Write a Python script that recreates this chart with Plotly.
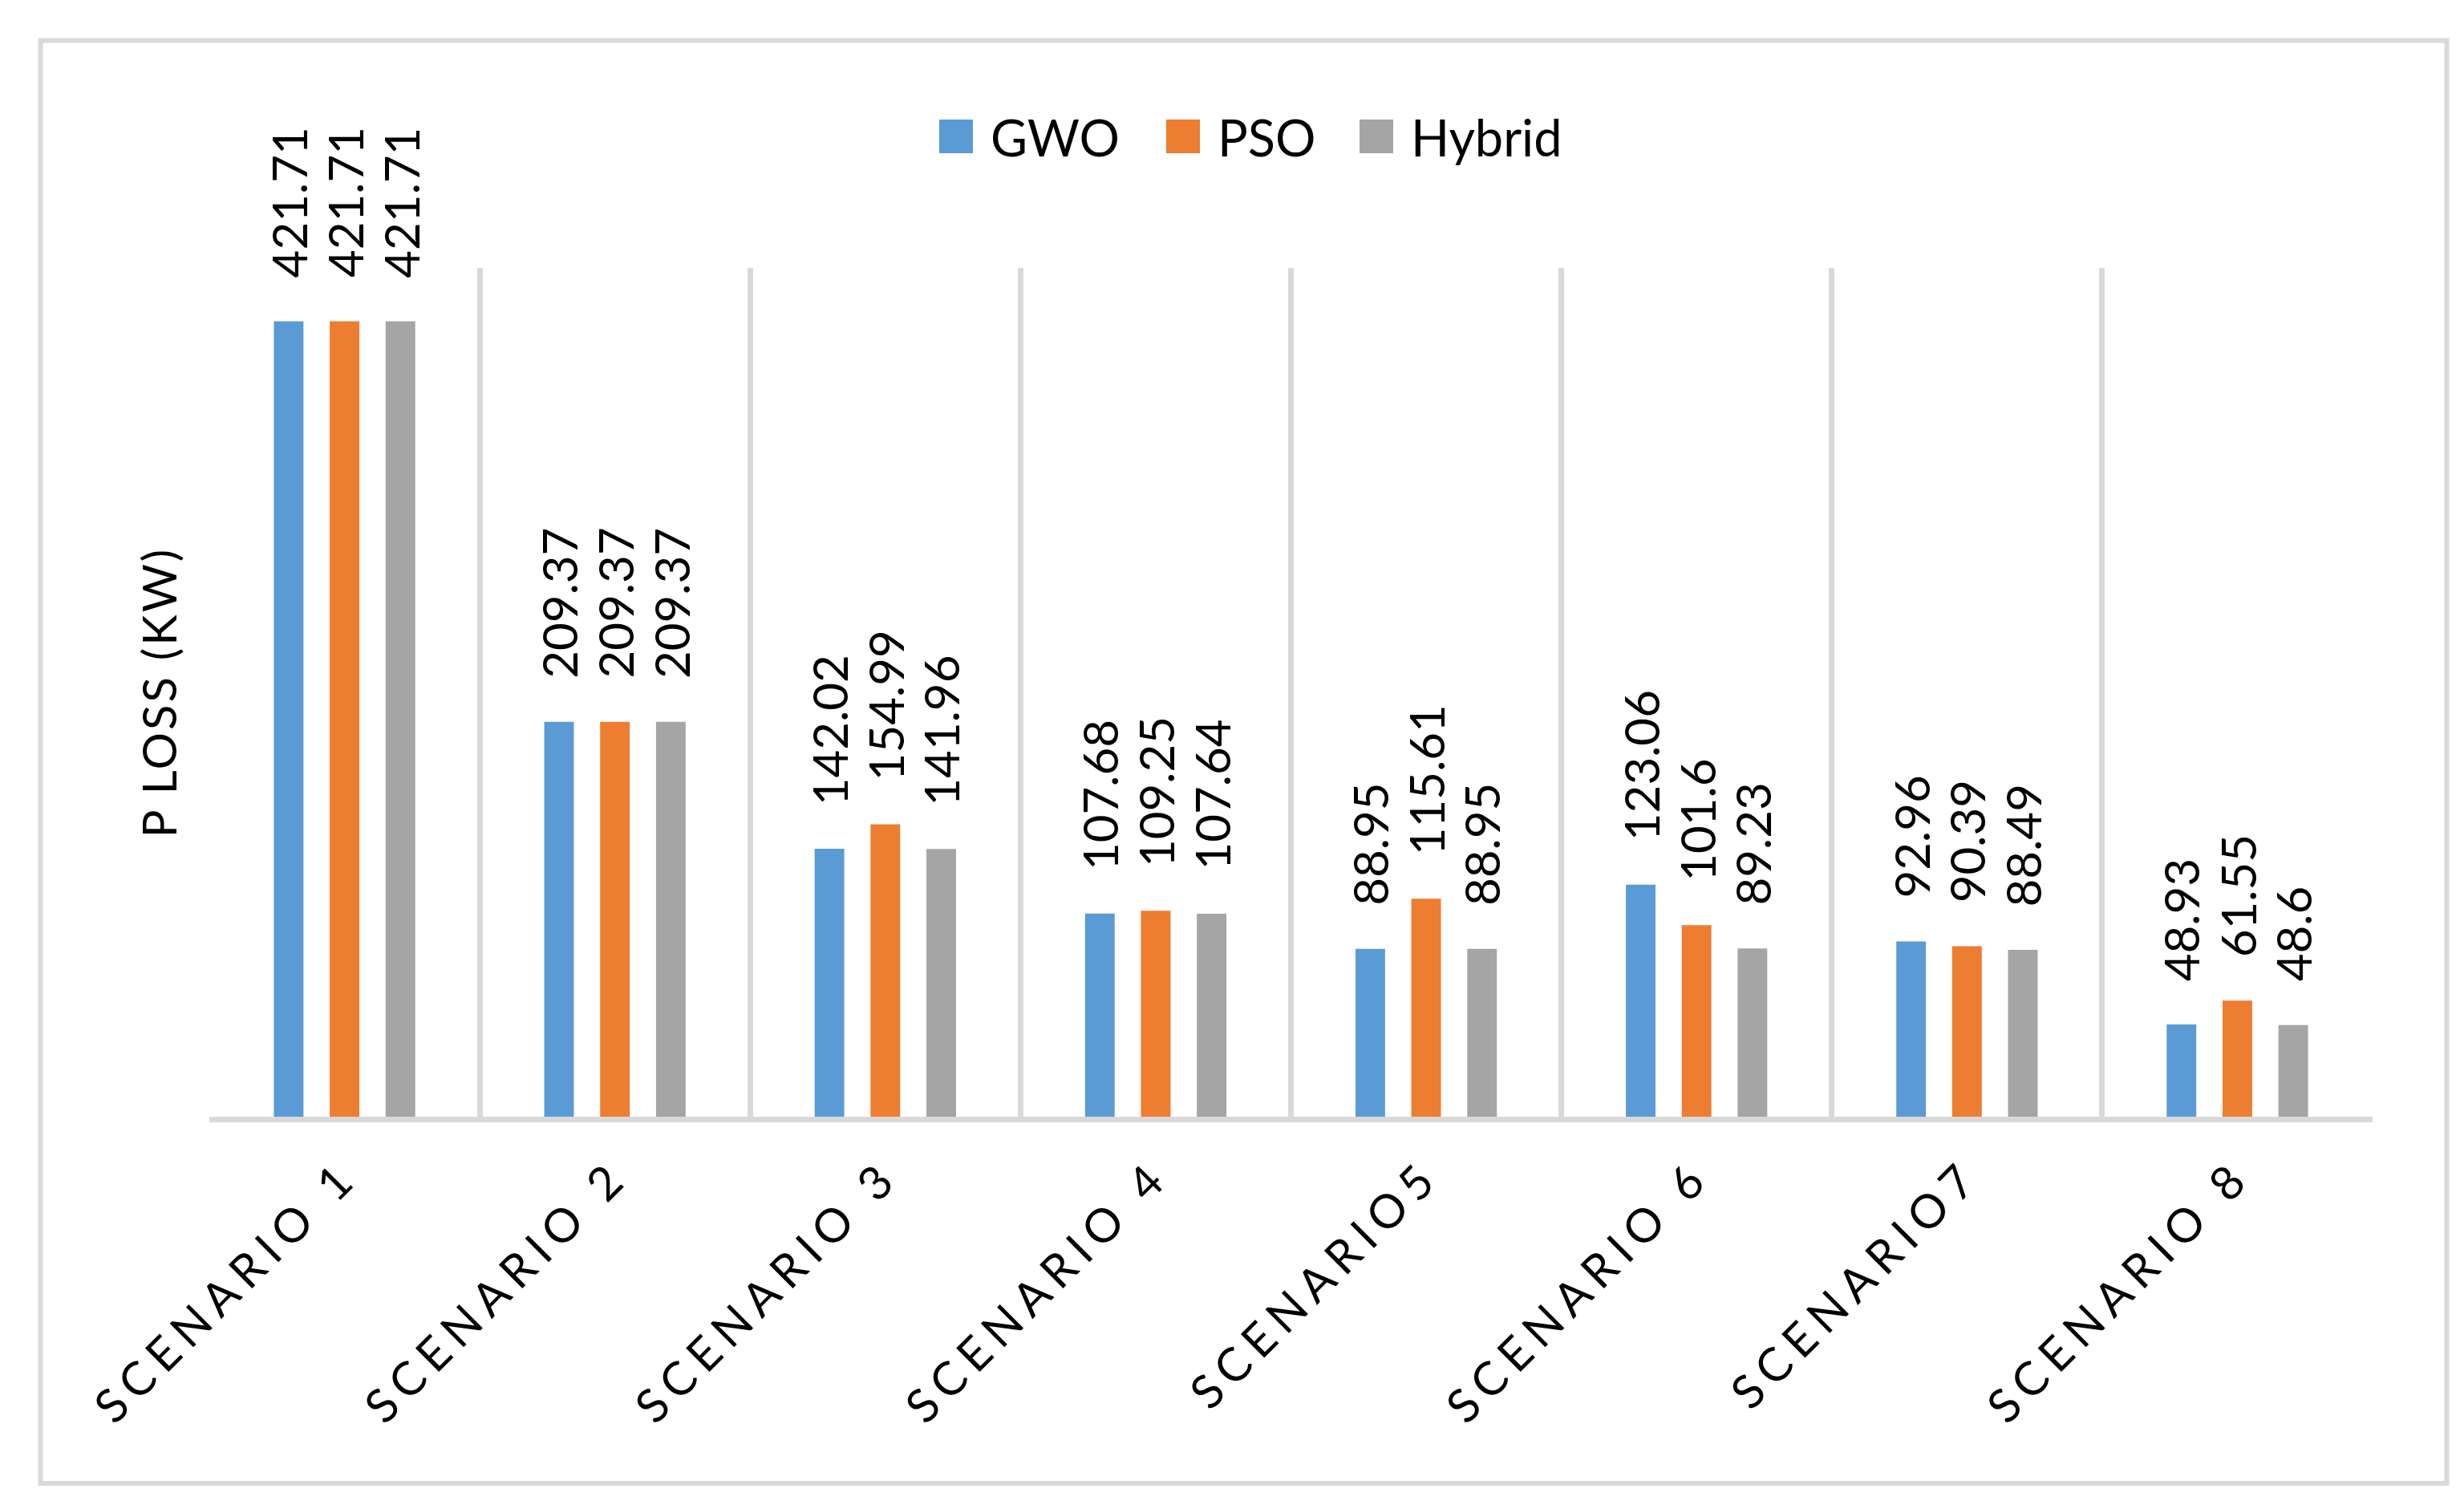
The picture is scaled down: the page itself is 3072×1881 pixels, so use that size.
import plotly.graph_objects as go

categories = ["SCENARIO 1", "SCENARIO 2", "SCENARIO 3", "SCENARIO 4",
              "SCENARIO5", "SCENARIO 6", "SCENARIO7", "SCENARIO 8"]
series_names = ["GWO", "PSO", "Hybrid"]
gwo = [421.71, 209.37, 142.02, 107.68, 88.95, 123.06, 92.96, 48.93]
pso = [421.71, 209.37, 154.99, 109.25, 115.61, 101.6, 90.39, 61.55]
hybrid = [421.71, 209.37, 141.96, 107.64, 88.95, 89.23, 88.49, 48.6]
colors = ["#5B9BD5", "#ED7D31", "#A5A5A5"]

W, H = 3072, 1881
ML, MR, MT, MB = 253, 122, 326, 497
BARGAP = 0.38
FONT = "Lato"
GRID = "#D9D9D9"
plot_w = W - ML - MR
plot_h = H - MT - MB


def px_x(p):
    return (p - ML) / plot_w


def px_y(p):
    return (H - MB - p) / plot_h


fig = go.Figure()
for name, vals, col in zip(series_names, [gwo, pso, hybrid], colors):
    fig.add_trace(go.Bar(name=name, x=categories, y=vals, marker_color=col,
                         marker_line_width=0, showlegend=False))

# data labels as rotated annotations placed above each bar
slot = plot_w / len(categories) * (1 - BARGAP) / 3
for i, vals in enumerate([gwo, pso, hybrid]):
    for c, v in zip(categories, vals):
        fig.add_annotation(x=c, y=v, xref="x", yref="y", text=f"{v:g}",
                           textangle=-90, showarrow=False, yanchor="bottom",
                           xanchor="center", xshift=(i - 1) * slot, yshift=52,
                           font=dict(family=FONT, size=60, color="black"))

# legend (square swatch + label), laid out like the original's top legend
legend_swatch_left = [1163, 1446, 1687]
SW = 42
LEG_Y = 162
for name, col, x0 in zip(series_names, colors, legend_swatch_left):
    fig.add_shape(type="rect", xref="paper", yref="paper",
                  x0=px_x(x0), x1=px_x(x0 + SW),
                  y0=px_y(LEG_Y + SW / 2), y1=px_y(LEG_Y - SW / 2),
                  line=dict(width=0), fillcolor=col)
    fig.add_annotation(x=px_x(x0 + SW + 20), y=px_y(LEG_Y), xref="paper",
                       yref="paper", text=name, showarrow=False,
                       xanchor="left", yanchor="middle",
                       font=dict(family=FONT, size=63, color="black"))

ticktext = [f'<span style="letter-spacing:10px">{c}</span>' for c in categories]

fig.update_layout(
    width=W, height=H,
    margin=dict(l=ML, r=MR, t=MT, b=MB),
    paper_bgcolor="white", plot_bgcolor="white",
    barmode="group", bargap=BARGAP, bargroupgap=0.47,
    font=dict(family=FONT, color="black"),
    showlegend=False,
    xaxis=dict(tickvals=categories, ticktext=ticktext, tickangle=-45,
               tickson="boundaries", showgrid=True, gridcolor=GRID,
               gridwidth=7, showline=True, linecolor=GRID, linewidth=7,
               ticks="", ticklabelstandoff=10,
               tickfont=dict(family=FONT, size=58, color="black")),
    yaxis=dict(range=[0, 450], showticklabels=False, showgrid=False,
               zeroline=False, showline=False, ticks="",
               title=dict(text='<span style="letter-spacing:3px">P LOSS (KW)</span>',
                          font=dict(family=FONT, size=58, color="black"),
                          standoff=20)),
)

fig.add_shape(type="rect", xref="paper", yref="paper",
              x0=px_x(42.5), x1=px_x(3042.5), y0=px_y(1841), y1=px_y(42.5),
              line=dict(color=GRID, width=6), fillcolor="rgba(0,0,0,0)",
              layer="below")

fig.write_html("out.html")
